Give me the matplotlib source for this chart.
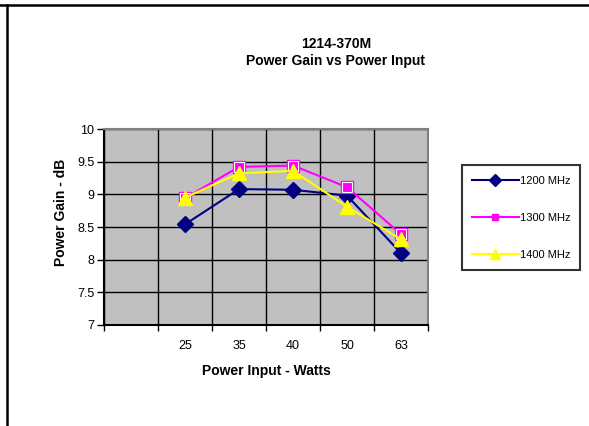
import matplotlib
matplotlib.use("Agg")
import matplotlib.pyplot as plt
from matplotlib.lines import Line2D

plt.rcParams['font.family'] = ['Liberation Sans', 'DejaVu Sans']

categories = ['', '25', '35', '40', '50', '63']
power_in = ['25', '35', '40', '50', '63']
gain_1200 = [8.54, 9.08, 9.07, 8.98, 8.10]
gain_1300 = [8.94, 9.42, 9.44, 9.11, 8.39]
gain_1400 = [8.95, 9.32, 9.36, 8.81, 8.31]
y_ticks = [7, 7.5, 8, 8.5, 9, 9.5, 10]
y_labels = ['7', '7.5', '8', '8.5', '9', '9.5', '10']


def main():
    fig = plt.figure(figsize=(5.89, 4.26), dpi=100)
    ax = fig.add_axes([104 / 589, 1 - 325 / 426, 324 / 589, 196 / 426])
    ax.set_facecolor('#c0c0c0')

    xs = [categories.index(c) for c in power_in]

    ax.plot(xs, gain_1200, color='#000080', lw=1.5, marker='D', ms=8,
            mfc='#000080', mec='#000080', label='1200 MHz', zorder=3)
    ax.plot(xs, gain_1300, color='#ff00ff', lw=1.5, marker='s', ms=9,
            mfc='#ff00ff', mec='#ff00ff', label='1300 MHz', zorder=4)
    # white inner ring of the square markers
    ax.plot(xs, gain_1300, ls='none', marker='s', ms=6.5, mfc='#ff00ff',
            mec='white', mew=0.8, zorder=4)
    ax.plot(xs, gain_1400, color='#ffff00', lw=1.5, marker='^', ms=10,
            mfc='#ffff00', mec='#ffff00', label='1400 MHz', zorder=5)

    ax.set_xlim(-0.5, len(categories) - 0.5)
    ax.set_ylim(7, 10)

    # boundaries as major ticks, labels at category centres
    bounds = [i - 0.5 for i in range(len(categories) + 1)]
    ax.set_xticks(bounds)
    ax.set_xticklabels([])
    ax.set_xticks(range(len(categories)), minor=True)
    ax.set_xticklabels(categories, minor=True, fontsize=9)
    ax.tick_params(axis='x', which='major', direction='out', length=4,
                   width=1, color='black')
    ax.tick_params(axis='x', which='minor', length=0, pad=11)

    ax.set_yticks(y_ticks)
    ax.set_yticklabels(y_labels, fontsize=9)
    ax.tick_params(axis='y', direction='out', length=5, width=1, pad=2)

    ax.grid(True, which='major', color='black', lw=1)
    ax.set_axisbelow(True)

    ax.spines['left'].set_color('black')
    ax.spines['bottom'].set_color('black')
    ax.spines['left'].set_linewidth(1.5)
    ax.spines['bottom'].set_linewidth(1.5)
    ax.spines['top'].set_color('#808080')
    ax.spines['right'].set_color('#808080')
    ax.spines['top'].set_linewidth(1.5)
    ax.spines['right'].set_linewidth(1.5)

    fig.text(336 / 589, 1 - 44 / 426, '1214-370M', ha='center', va='center',
             fontsize=10, fontweight='bold')
    fig.text(335 / 589, 1 - 61 / 426, 'Power Gain vs Power Input',
             ha='center', va='center', fontsize=10, fontweight='bold')
    fig.text(266 / 589, 1 - 371 / 426, 'Power Input - Watts', ha='center',
             va='center', fontsize=10, fontweight='bold')
    fig.text(61 / 589, 1 - 212 / 426, 'Power Gain - dB', ha='center',
             va='center', rotation=90, fontsize=10, fontweight='bold')

    handles = [
        Line2D([], [], color='#000080', lw=1.5, marker='D', ms=6, mfc='#000080'),
        Line2D([], [], color='#ff00ff', lw=1.5, marker='s', ms=5, mfc='#ff00ff'),
        Line2D([], [], color='#ffff00', lw=1.5, marker='^', ms=7, mfc='#ffff00'),
    ]
    leg = fig.legend(handles, ['1200 MHz', '1300 MHz', '1400 MHz'],
                     loc='upper left', bbox_to_anchor=(462 / 589, 1 - 165 / 426),
                     fontsize=8, frameon=True, fancybox=False,
                     edgecolor='black', handlelength=4.2, handletextpad=0.1,
                     handleheight=1.2, labelspacing=2.3, borderpad=0.9,
                     borderaxespad=0)
    leg.get_frame().set_linewidth(1.5)

    # outer chart frame (top and left edges are visible)
    fig.add_artist(Line2D([0, 1], [1 - 5 / 426, 1 - 5 / 426], color='black',
                          lw=1.8, transform=fig.transFigure))
    fig.add_artist(Line2D([7 / 589, 7 / 589], [0, 1 - 5 / 426], color='black',
                          lw=1.8, transform=fig.transFigure))

    fig.savefig('out.png', dpi=100)


if __name__ == "__main__":
    main()
